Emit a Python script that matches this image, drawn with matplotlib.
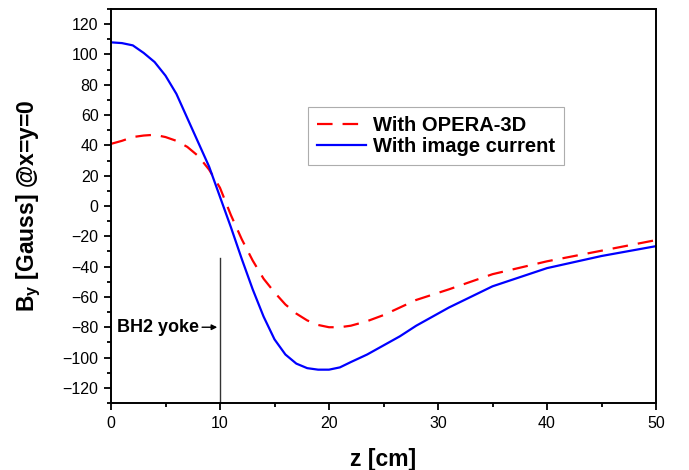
import matplotlib
matplotlib.use('Agg')
import matplotlib.pyplot as plt
from matplotlib.ticker import MultipleLocator

plt.rcParams['font.family'] = ['Liberation Sans', 'DejaVu Sans']

# With image current (blue)
z_img = [0, 1, 2, 3, 4, 5, 6, 7, 8, 9, 10, 11, 12, 13, 14, 15, 16, 17, 18, 19, 20,
         21, 22, 23.5, 25, 26.5, 28, 31, 35, 40, 45, 50]
b_img = [108, 107.5, 106, 101, 95, 86, 74, 58, 42, 26, 6, -14, -35, -55, -73, -88,
         -98, -104, -107, -108, -108, -106.5, -103, -98, -92, -86, -79, -67, -53,
         -41, -33, -26.5]

# With OPERA-3D (red dashed)
z_op = [0, 1, 2, 3, 4, 5, 6, 7, 8, 9, 10, 11, 12, 13, 14, 15, 16, 17, 18, 19, 20,
        21, 22, 23.5, 25, 26.5, 28, 31, 35, 40, 45, 50]
b_op = [41, 43, 45.5, 46.5, 47, 45.5, 43, 39, 33, 24, 12, -6, -22, -36, -48, -57,
        -65, -71, -75.5, -78.5, -80, -80, -79, -76, -72, -67, -62, -55, -45,
        -36.5, -29.5, -22.5]

fig = plt.figure(figsize=(6.89, 4.70), dpi=100)
ax = fig.add_axes([111/689, 1-403/470, (656-111)/689, (403-9)/470])

ax.plot(z_op, b_op, color='red', lw=1.6, dashes=(7, 4.5), label='With OPERA-3D')
ax.plot(z_img, b_img, color='blue', lw=1.6, label='With image current')

ax.set_xlim(0, 50)
ax.set_ylim(-130, 130)
ax.xaxis.set_major_locator(MultipleLocator(10))
ax.xaxis.set_minor_locator(MultipleLocator(5))
ax.yaxis.set_major_locator(MultipleLocator(20))
ax.yaxis.set_minor_locator(MultipleLocator(10))
ax.tick_params(which='both', direction='out', width=1.3, labelsize=11.5, colors='black')
ax.tick_params(which='major', length=5, pad=4)
ax.tick_params(which='minor', length=3)
for s in ax.spines.values():
    s.set_linewidth(1.4)

ax.set_xlabel('z [cm]', fontsize=16.5, fontweight='bold')
ax.set_ylabel(r'B$_\mathregular{y}$ [Gauss] @x=y=0', fontsize=16.5, fontweight='bold')
ax.xaxis.set_label_coords(0.5, -0.115)
ax.yaxis.set_label_coords(-0.125, 0.5)

# BH2 yoke marker
ax.plot([10, 10], [-34, -130], color='#333333', lw=1)
ax.annotate('', xy=(10, -80), xytext=(8.1, -80),
            arrowprops=dict(arrowstyle='-|>', color='black', lw=1, mutation_scale=8))
ax.text(8.1, -80, 'BH2 yoke', ha='right', va='center', fontsize=13, fontweight='bold')

leg = ax.legend(loc='upper left', bbox_to_anchor=(0.362, 0.752), fancybox=False,
                edgecolor='#999999', prop={'weight': 'bold', 'size': 14.5},
                handlelength=2.4, borderpad=0.45, labelspacing=0.12, handletextpad=0.35,
                borderaxespad=0)
leg.get_frame().set_linewidth(0.8)

fig.savefig('out.png', dpi=100)
